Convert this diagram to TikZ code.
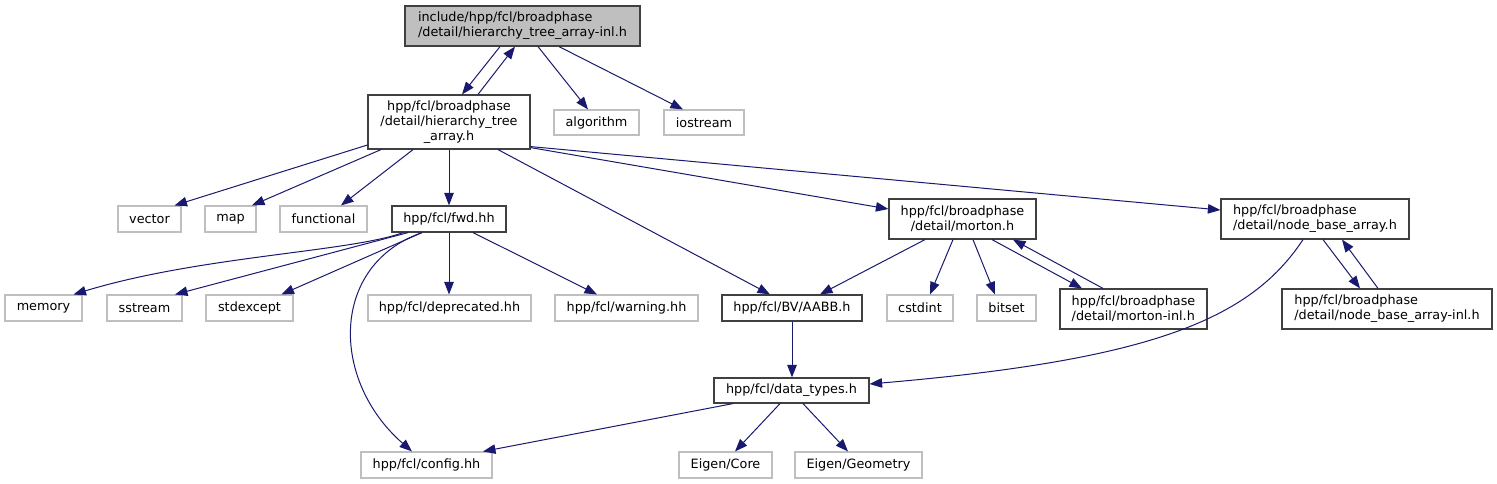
\documentclass[tikz,border=0pt]{standalone}
\usepackage{fontspec}
\setmainfont{DejaVu Sans}
\usetikzlibrary{arrows.meta}
\definecolor{edgecol}{HTML}{191970}
\definecolor{graybd}{HTML}{BFBFBF}
\definecolor{darkbd}{HTML}{404040}
\tikzset{
  box/.style={draw=darkbd, line width=1.2pt, inner sep=0pt, font=\fontsize{12.8}{15}\selectfont},
  gbox/.style={draw=graybd, line width=1.1pt, inner sep=0pt, font=\fontsize{12.8}{15}\selectfont},
  dep/.style={draw=edgecol, line width=1pt, -{Triangle[length=12.5pt,width=9.5pt]}},
}
\begin{document}
\begin{tikzpicture}[x=1pt,y=-1pt]
\path[use as bounding box, fill=white] (0,0) rectangle (1497,484);
% nodes
\node[box, fill=graybd, minimum width=235pt, minimum height=40pt, align=left] (top) at (522.5,26) {include/hpp/fcl/broadphase\\/detail/hierarchy\_tree\_array-inl.h};
\node[box, minimum width=162pt, minimum height=54pt, align=center] (hta) at (449,122) {hpp/fcl/broadphase\\/detail/hierarchy\_tree\\\_array.h};
\node[gbox, minimum width=85pt, minimum height=25pt] (alg) at (596.5,122.5) {algorithm};
\node[gbox, minimum width=80pt, minimum height=25pt] (ios) at (704,122.5) {iostream};
\node[gbox, minimum width=63pt, minimum height=26pt] (vec) at (149.5,219) {vector};
\node[gbox, minimum width=51pt, minimum height=26pt] (map) at (230.5,219) {map};
\node[gbox, minimum width=87pt, minimum height=26pt] (fun) at (323.5,219) {functional};
\node[box, minimum width=114pt, minimum height=26pt] (fwd) at (449,219) {hpp/fcl/fwd.hh};
\node[box, minimum width=147pt, minimum height=40pt, align=center] (mor) at (962.5,219) {hpp/fcl/broadphase\\/detail/morton.h};
\node[box, minimum width=188pt, minimum height=40pt, align=left] (nba) at (1315,219) {hpp/fcl/broadphase\\/detail/node\_base\_array.h};
\node[gbox, minimum width=77pt, minimum height=26pt] (mem) at (43.5,308) {memory};
\node[gbox, minimum width=75pt, minimum height=26pt] (sst) at (144.5,308) {sstream};
\node[gbox, minimum width=87pt, minimum height=26pt] (stde) at (249.5,308) {stdexcept};
\node[gbox, minimum width=163pt, minimum height=26pt] (depr) at (449.5,308) {hpp/fcl/deprecated.hh};
\node[gbox, minimum width=143pt, minimum height=26pt] (warn) at (626.5,308) {hpp/fcl/warning.hh};
\node[box, minimum width=140pt, minimum height=26pt] (aabb) at (792,308) {hpp/fcl/BV/AABB.h};
\node[gbox, minimum width=66pt, minimum height=26pt] (cst) at (920,308) {cstdint};
\node[gbox, minimum width=59pt, minimum height=26pt] (bits) at (1006.5,308) {bitset};
\node[box, minimum width=147pt, minimum height=40pt, align=left] (morinl) at (1133.5,309) {hpp/fcl/broadphase\\/detail/morton-inl.h};
\node[box, minimum width=210pt, minimum height=40pt, align=left] (nbainl) at (1387,309) {hpp/fcl/broadphase\\/detail/node\_base\_array-inl.h};
\node[box, minimum width=155pt, minimum height=25pt] (dt) at (791.5,390.5) {hpp/fcl/data\_types.h};
\node[gbox, minimum width=131pt, minimum height=26pt] (cfg) at (426.5,465) {hpp/fcl/config.hh};
\node[gbox, minimum width=93pt, minimum height=26pt] (core) at (725.5,465) {Eigen/Core};
\node[gbox, minimum width=127pt, minimum height=26pt] (geo) at (858.5,465) {Eigen/Geometry};
% edges from top
\draw[dep] ([xshift=-22.5pt]top.south) -- ([xshift=13pt]hta.north);
\draw[dep] ([xshift=29pt]hta.north) -- ([xshift=-7.5pt]top.south);
\draw[dep] ([xshift=15.5pt]top.south) -- ([xshift=-8.5pt]alg.north);
\draw[dep] ([xshift=36.5pt]top.south) -- ([xshift=-21pt]ios.north);
% edges from hta
\draw[dep] ([yshift=-23pt]hta.west) -- ([xshift=25pt]vec.north);
\draw[dep] ([xshift=-68pt]hta.south) -- ([xshift=21.5pt]map.north);
\draw[dep] ([xshift=-36pt]hta.south) -- ([xshift=17.5pt]fun.north);
\draw[dep] (hta.south) -- (fwd.north);
\draw[dep] ([xshift=49pt]hta.south) -- ([xshift=-22pt]aabb.north);
\draw[dep] ([yshift=2pt]hta.south east) -- ([yshift=10pt]mor.west);
\draw[dep] ([yshift=3pt]hta.south east) -- ([yshift=9pt]nba.west);
% edges from fwd
\draw[dep] ([xshift=-46pt]fwd.south) .. controls (350,252) and (200,256) .. ([xshift=30pt]mem.north);
\draw[dep] ([xshift=-41pt]fwd.south) -- ([xshift=30.5pt]sst.north);
\draw[dep] ([xshift=-27pt]fwd.south) -- ([xshift=32pt]stde.north);
\draw[dep] (fwd.south) -- ([xshift=-0.5pt]depr.north);
\draw[dep] ([xshift=24pt]fwd.south) -- ([xshift=-29.5pt]warn.north);
\draw[dep] ([xshift=-27pt]fwd.south) .. controls (330,265) and (330,380) .. ([xshift=-14.5pt]cfg.north);
% edges from morton
\draw[dep] ([xshift=-37.5pt]mor.south) -- ([xshift=28pt]aabb.north);
\draw[dep] ([xshift=-9.5pt]mor.south) -- ([xshift=10pt]cst.north);
\draw[dep] ([xshift=10.5pt]mor.south) -- ([xshift=-11.5pt]bits.north);
\draw[dep] ([xshift=29.5pt]mor.south) -- ([xshift=-51.5pt]morinl.north);
\draw[dep] ([xshift=-30.5pt]morinl.north) -- ([xshift=50.5pt]mor.south);
% edges from node_base_array
\draw[dep] ([xshift=8pt]nba.south) -- ([xshift=-27pt]nbainl.north);
\draw[dep] ([xshift=-9pt]nbainl.north) -- ([xshift=27pt]nba.south);
\draw[dep] ([xshift=-12pt]nba.south) .. controls (1250,320) and (1150,360) .. ([yshift=6.5pt]dt.east);
% AABB, data_types
\draw[dep] (aabb.south) -- ([xshift=0.5pt]dt.north);
\draw[dep] ([xshift=-58.5pt]dt.south) -- ([xshift=56.5pt]cfg.north);
\draw[dep] ([xshift=-11.5pt]dt.south) -- ([xshift=9.5pt]core.north);
\draw[dep] ([xshift=11.5pt]dt.south) -- ([xshift=-10.5pt]geo.north);
\end{tikzpicture}
\end{document}
